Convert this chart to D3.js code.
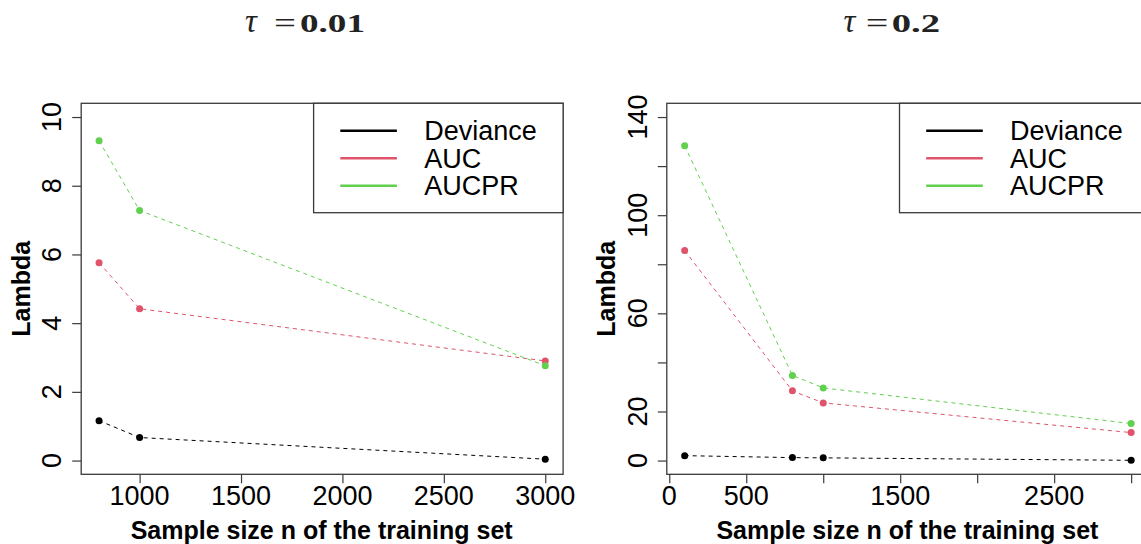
<!DOCTYPE html>
<html>
<head>
<meta charset="utf-8">
<script src="https://cdn.jsdelivr.net/npm/d3@7"></script>
<style>
  body { margin: 0; background: #fff; overflow: hidden; }
  svg { display: block; }
</style>
</head>
<body>
<div id="container"></div>
<script>
// values
const seriesNames = ["Deviance", "AUC", "AUCPR"]
const seriesColors = ["#000000", "#DF536B", "#61D04F"]

// tau = 0.01
const nLeft = [800, 1000, 3000]
const devianceLeft = [1.16, 0.67, 0.04]
const aucLeft = [5.76, 4.42, 2.90]
const aucprLeft = [9.31, 7.28, 2.76]
const xTicksLeft = [1000, 1500, 2000, 2500, 3000]
const xLabelsLeft = [1000, 1500, 2000, 2500, 3000]
const yTicksLeft = [0, 2, 4, 6, 8, 10]
const yLabelsLeft = [0, 2, 4, 6, 8, 10]

// tau = 0.2
const nRight = [100, 800, 1000, 3000]
const devianceRight = [2.0, 1.2, 1.1, 0.1]
const aucRight = [85.6, 28.4, 23.5, 11.4]
const aucprRight = [128.3, 34.7, 29.6, 15.1]
const xTicksRight = [0, 500, 1000, 1500, 2000, 2500, 3000]
const xLabelsRight = [0, 500, 1500, 2500]
const yTicksRight = [0, 20, 40, 60, 80, 100, 120, 140]
const yLabelsRight = [0, 20, 60, 100, 140]

const tauLabels = ["0.01", "0.2"]
const xTitle = "Sample size n of the training set"
const yTitle = "Lambda"

const width = 1141, height = 544
const sans = "'Liberation Sans', Arial, sans-serif"
const serif = "'Liberation Serif', 'Times New Roman', serif"
const boxColor = "#3a3a3a"

let svg = d3.select("#container")
    .append("svg")
    .attr("width", width)
    .attr("height", height)

// R style: xlim/ylim extended by 4%
function pad(lo, hi) {
    let d = (hi - lo) * 0.04
    return [lo - d, hi + d]
}

const panels = [
    {
        n: nLeft, series: [devianceLeft, aucLeft, aucprLeft],
        xDomain: pad(800, 3000), yDomain: pad(0, 10),
        xTicks: xTicksLeft, xLabels: xLabelsLeft, yTicks: yTicksLeft, yLabels: yLabelsLeft,
        left: 81.2, right: 563.1, tau: tauLabels[0],
        title: {tau: 245, eq: 274, eqW: 22, val: 300, valW: 65}
    },
    {
        n: nRight, series: [devianceRight, aucRight, aucprRight],
        xDomain: pad(100, 3000), yDomain: pad(0, 140),
        xTicks: xTicksRight, xLabels: xLabelsRight, yTicks: yTicksRight, yLabels: yLabelsRight,
        left: 666.8, right: 1149, tau: tauLabels[1],
        title: {tau: 843.5, eq: 865.7, eqW: 22.6, val: 891.7, valW: 48.3}
    }
]

const plotTop = 103.3, plotBottom = 474.3

panels.forEach(p => {
    let x = d3.scaleLinear().domain(p.xDomain).range([p.left, p.right])
    let y = d3.scaleLinear().domain(p.yDomain).range([plotBottom, plotTop])
    let g = svg.append("g")

    // dashed series lines + points
    p.series.forEach((vals, si) => {
        let pts = vals.map((v, i) => [p.n[i], v])
        g.append("path")
            .datum(pts)
            .attr("fill", "none")
            .attr("stroke", seriesColors[si])
            .attr("stroke-width", 1)
            .attr("stroke-dasharray", "4,4")
            .attr("d", d3.line().x(d => x(d[0])).y(d => y(d[1])))
        g.selectAll(".pt" + si)
            .data(pts)
            .join("circle")
            .attr("cx", d => x(d[0]))
            .attr("cy", d => y(d[1]))
            .attr("r", 3.5)
            .attr("fill", seriesColors[si])
    })

    // axes (ticks only, the box stands in for the domain line)
    let xAxis = g.append("g")
        .attr("transform", `translate(0,${plotBottom})`)
        .call(d3.axisBottom(x).tickValues(p.xTicks).tickSize(9).tickFormat(""))
    let yAxis = g.append("g")
        .attr("transform", `translate(${p.left},0)`)
        .call(d3.axisLeft(y).tickValues(p.yTicks).tickSize(9).tickFormat(""))
    xAxis.select(".domain").remove()
    yAxis.select(".domain").remove()
    g.selectAll(".tick line").attr("stroke", boxColor).attr("stroke-width", 1.2)

    g.selectAll(".xlab")
        .data(p.xLabels)
        .join("text")
        .attr("x", d => x(d))
        .attr("y", plotBottom + 30.4)
        .attr("text-anchor", "middle")
        .attr("font-family", sans)
        .attr("font-size", 27)
        .text(d => d)

    g.selectAll(".ylab")
        .data(p.yLabels)
        .join("text")
        .attr("transform", d => `translate(${p.left - 19.8},${y(d)}) rotate(-90)`)
        .attr("text-anchor", "middle")
        .attr("font-family", sans)
        .attr("font-size", 27)
        .text(d => d)

    // box
    g.append("rect")
        .attr("x", p.left).attr("y", plotTop)
        .attr("width", p.right - p.left).attr("height", plotBottom - plotTop)
        .attr("fill", "none")
        .attr("stroke", boxColor)
        .attr("stroke-width", 1.3)

    // axis titles
    g.append("text")
        .attr("x", (p.left + p.right) / 2 - 0.5)
        .attr("y", 539)
        .attr("text-anchor", "middle")
        .attr("font-family", sans)
        .attr("font-weight", "bold")
        .attr("font-size", 25)
        .text(xTitle)
    g.append("text")
        .attr("transform", `translate(${p.left - 51.5},${(plotTop + plotBottom) / 2}) rotate(-90)`)
        .attr("text-anchor", "middle")
        .attr("font-family", sans)
        .attr("font-weight", "bold")
        .attr("font-size", 25)
        .text(yTitle)

    // legend (topright)
    let lg = g.append("g").attr("transform", `translate(${p.right - 249.5},${plotTop})`)
    lg.append("rect")
        .attr("width", 249.5).attr("height", 109.4)
        .attr("fill", "white")
        .attr("stroke", boxColor)
        .attr("stroke-width", 1.3)
    let rows = lg.selectAll(".row")
        .data(seriesNames)
        .join("g")
        .attr("transform", (d, i) => `translate(0,${27.4 + i * 27.5})`)
    rows.append("line")
        .attr("x1", 26.7).attr("x2", 83.3)
        .attr("stroke", (d, i) => seriesColors[i])
        .attr("stroke-width", 2.5)
    rows.append("text")
        .attr("x", 110.6)
        .attr("y", 9.7)
        .attr("font-family", sans)
        .attr("font-size", 27)
        .text(d => d)

    // title  tau = value
    let t = p.title
    svg.append("text")
        .attr("x", t.tau).attr("y", 32.3)
        .attr("font-family", serif)
        .attr("font-style", "italic")
        .attr("font-size", 33)
        .attr("fill", "#222")
        .text("τ")
    svg.append("text")
        .attr("x", t.eq).attr("y", 33)
        .attr("font-family", serif)
        .attr("font-size", 30)
        .attr("fill", "#222")
        .attr("textLength", t.eqW)
        .attr("lengthAdjust", "spacingAndGlyphs")
        .text("=")
    svg.append("text")
        .attr("x", t.val).attr("y", 32.3)
        .attr("font-family", serif)
        .attr("font-weight", "bold")
        .attr("font-size", 25)
        .attr("fill", "#222")
        .attr("textLength", t.valW)
        .attr("lengthAdjust", "spacingAndGlyphs")
        .text(p.tau)
})
</script>
</body>
</html>
